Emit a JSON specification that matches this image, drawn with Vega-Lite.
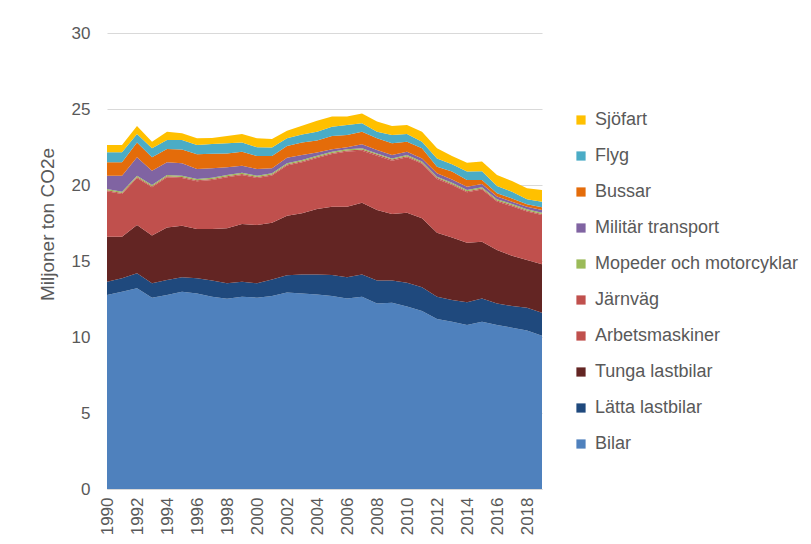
{
  "$schema": "https://vega.github.io/schema/vega-lite/v6.json",
  "width": 435,
  "height": 456,
  "autosize": "none",
  "padding": {"left": 107, "top": 33, "right": 269, "bottom": 55},
  "background": "white",
  "config": {
    "view": {"stroke": null},
    "font": "Liberation Sans"
  },
  "datasets": {
    "wide": [
      {"year": 1990, "Bilar": 12.76, "Lätta lastbilar": 0.88, "Tunga lastbilar": 2.96, "Arbetsmaskiner": 2.99, "Järnväg": 0.07, "Mopeder och motorcyklar": 0.08, "Militär transport": 0.87, "Bussar": 0.89, "Flyg": 0.65, "Sjöfart": 0.48},
      {"year": 1991, "Bilar": 12.98, "Lätta lastbilar": 0.88, "Tunga lastbilar": 2.74, "Arbetsmaskiner": 2.81, "Järnväg": 0.07, "Mopeder och motorcyklar": 0.08, "Militär transport": 1.05, "Bussar": 0.89, "Flyg": 0.65, "Sjöfart": 0.48},
      {"year": 1992, "Bilar": 13.2, "Lätta lastbilar": 0.99, "Tunga lastbilar": 3.18, "Arbetsmaskiner": 3.09, "Järnväg": 0.07, "Mopeder och motorcyklar": 0.08, "Militär transport": 1.21, "Bussar": 0.98, "Flyg": 0.56, "Sjöfart": 0.52},
      {"year": 1993, "Bilar": 12.59, "Lätta lastbilar": 0.94, "Tunga lastbilar": 3.14, "Arbetsmaskiner": 3.18, "Järnväg": 0.07, "Mopeder och motorcyklar": 0.08, "Militär transport": 0.94, "Bussar": 0.88, "Flyg": 0.59, "Sjöfart": 0.44},
      {"year": 1994, "Bilar": 12.76, "Lätta lastbilar": 0.99, "Tunga lastbilar": 3.46, "Arbetsmaskiner": 3.3, "Järnväg": 0.07, "Mopeder och motorcyklar": 0.08, "Militär transport": 0.84, "Bussar": 0.87, "Flyg": 0.59, "Sjöfart": 0.55},
      {"year": 1995, "Bilar": 12.98, "Lätta lastbilar": 0.95, "Tunga lastbilar": 3.39, "Arbetsmaskiner": 3.14, "Järnväg": 0.07, "Mopeder och motorcyklar": 0.08, "Militär transport": 0.82, "Bussar": 0.9, "Flyg": 0.63, "Sjöfart": 0.44},
      {"year": 1996, "Bilar": 12.87, "Lätta lastbilar": 0.99, "Tunga lastbilar": 3.24, "Arbetsmaskiner": 3.14, "Järnväg": 0.07, "Mopeder och motorcyklar": 0.08, "Militär transport": 0.66, "Bussar": 0.97, "Flyg": 0.61, "Sjöfart": 0.44},
      {"year": 1997, "Bilar": 12.65, "Lätta lastbilar": 1.06, "Tunga lastbilar": 3.39, "Arbetsmaskiner": 3.23, "Järnväg": 0.07, "Mopeder och motorcyklar": 0.08, "Militär transport": 0.62, "Bussar": 0.95, "Flyg": 0.65, "Sjöfart": 0.4},
      {"year": 1998, "Bilar": 12.52, "Lätta lastbilar": 1.01, "Tunga lastbilar": 3.62, "Arbetsmaskiner": 3.36, "Järnväg": 0.07, "Mopeder och motorcyklar": 0.08, "Militär transport": 0.5, "Bussar": 0.92, "Flyg": 0.66, "Sjöfart": 0.48},
      {"year": 1999, "Bilar": 12.65, "Lätta lastbilar": 0.99, "Tunga lastbilar": 3.79, "Arbetsmaskiner": 3.23, "Järnväg": 0.07, "Mopeder och motorcyklar": 0.08, "Militär transport": 0.46, "Bussar": 0.92, "Flyg": 0.61, "Sjöfart": 0.56},
      {"year": 2000, "Bilar": 12.59, "Lätta lastbilar": 0.94, "Tunga lastbilar": 3.84, "Arbetsmaskiner": 3.09, "Järnväg": 0.07, "Mopeder och motorcyklar": 0.08, "Militär transport": 0.44, "Bussar": 0.85, "Flyg": 0.58, "Sjöfart": 0.59},
      {"year": 2001, "Bilar": 12.7, "Lätta lastbilar": 1.09, "Tunga lastbilar": 3.73, "Arbetsmaskiner": 3.1, "Järnväg": 0.07, "Mopeder och motorcyklar": 0.08, "Militär transport": 0.33, "Bussar": 0.8, "Flyg": 0.56, "Sjöfart": 0.57},
      {"year": 2002, "Bilar": 12.92, "Lätta lastbilar": 1.14, "Tunga lastbilar": 3.92, "Arbetsmaskiner": 3.3, "Järnväg": 0.07, "Mopeder och motorcyklar": 0.08, "Militär transport": 0.37, "Bussar": 0.77, "Flyg": 0.5, "Sjöfart": 0.5},
      {"year": 2003, "Bilar": 12.87, "Lätta lastbilar": 1.25, "Tunga lastbilar": 4.02, "Arbetsmaskiner": 3.35, "Järnväg": 0.07, "Mopeder och motorcyklar": 0.08, "Militär transport": 0.33, "Bussar": 0.82, "Flyg": 0.54, "Sjöfart": 0.57},
      {"year": 2004, "Bilar": 12.8, "Lätta lastbilar": 1.32, "Tunga lastbilar": 4.3, "Arbetsmaskiner": 3.36, "Järnväg": 0.07, "Mopeder och motorcyklar": 0.08, "Militär transport": 0.21, "Bussar": 0.78, "Flyg": 0.58, "Sjöfart": 0.72},
      {"year": 2005, "Bilar": 12.7, "Lätta lastbilar": 1.38, "Tunga lastbilar": 4.49, "Arbetsmaskiner": 3.47, "Järnväg": 0.07, "Mopeder och motorcyklar": 0.08, "Militär transport": 0.16, "Bussar": 0.87, "Flyg": 0.62, "Sjöfart": 0.66},
      {"year": 2006, "Bilar": 12.54, "Lätta lastbilar": 1.39, "Tunga lastbilar": 4.64, "Arbetsmaskiner": 3.63, "Järnväg": 0.07, "Mopeder och motorcyklar": 0.08, "Militär transport": 0.13, "Bussar": 0.81, "Flyg": 0.66, "Sjöfart": 0.55},
      {"year": 2007, "Bilar": 12.65, "Lätta lastbilar": 1.47, "Tunga lastbilar": 4.72, "Arbetsmaskiner": 3.42, "Järnväg": 0.07, "Mopeder och motorcyklar": 0.08, "Militär transport": 0.27, "Bussar": 0.83, "Flyg": 0.55, "Sjöfart": 0.65},
      {"year": 2008, "Bilar": 12.21, "Lätta lastbilar": 1.5, "Tunga lastbilar": 4.65, "Arbetsmaskiner": 3.57, "Järnväg": 0.07, "Mopeder och motorcyklar": 0.08, "Militär transport": 0.22, "Bussar": 0.77, "Flyg": 0.44, "Sjöfart": 0.66},
      {"year": 2009, "Bilar": 12.26, "Lätta lastbilar": 1.45, "Tunga lastbilar": 4.38, "Arbetsmaskiner": 3.51, "Järnväg": 0.07, "Mopeder och motorcyklar": 0.08, "Militär transport": 0.22, "Bussar": 0.77, "Flyg": 0.55, "Sjöfart": 0.59},
      {"year": 2010, "Bilar": 12.0, "Lätta lastbilar": 1.57, "Tunga lastbilar": 4.61, "Arbetsmaskiner": 3.64, "Järnväg": 0.07, "Mopeder och motorcyklar": 0.08, "Militär transport": 0.22, "Bussar": 0.66, "Flyg": 0.51, "Sjöfart": 0.59},
      {"year": 2011, "Bilar": 11.71, "Lätta lastbilar": 1.56, "Tunga lastbilar": 4.54, "Arbetsmaskiner": 3.58, "Järnväg": 0.07, "Mopeder och motorcyklar": 0.08, "Militär transport": 0.21, "Bussar": 0.66, "Flyg": 0.44, "Sjöfart": 0.66},
      {"year": 2012, "Bilar": 11.18, "Lätta lastbilar": 1.47, "Tunga lastbilar": 4.21, "Arbetsmaskiner": 3.54, "Järnväg": 0.07, "Mopeder och motorcyklar": 0.08, "Militär transport": 0.22, "Bussar": 0.43, "Flyg": 0.55, "Sjöfart": 0.66},
      {"year": 2013, "Bilar": 11.0, "Lätta lastbilar": 1.43, "Tunga lastbilar": 4.11, "Arbetsmaskiner": 3.46, "Järnväg": 0.07, "Mopeder och motorcyklar": 0.08, "Militär transport": 0.22, "Bussar": 0.51, "Flyg": 0.48, "Sjöfart": 0.54},
      {"year": 2014, "Bilar": 10.79, "Lätta lastbilar": 1.49, "Tunga lastbilar": 3.92, "Arbetsmaskiner": 3.32, "Järnväg": 0.07, "Mopeder och motorcyklar": 0.08, "Militär transport": 0.22, "Bussar": 0.44, "Flyg": 0.55, "Sjöfart": 0.59},
      {"year": 2015, "Bilar": 11.0, "Lätta lastbilar": 1.54, "Tunga lastbilar": 3.73, "Arbetsmaskiner": 3.43, "Järnväg": 0.07, "Mopeder och motorcyklar": 0.08, "Militär transport": 0.22, "Bussar": 0.26, "Flyg": 0.57, "Sjöfart": 0.64},
      {"year": 2016, "Bilar": 10.79, "Lätta lastbilar": 1.42, "Tunga lastbilar": 3.51, "Arbetsmaskiner": 3.19, "Järnväg": 0.07, "Mopeder och motorcyklar": 0.08, "Militär transport": 0.18, "Bussar": 0.21, "Flyg": 0.48, "Sjöfart": 0.73},
      {"year": 2017, "Bilar": 10.61, "Lätta lastbilar": 1.43, "Tunga lastbilar": 3.31, "Arbetsmaskiner": 3.25, "Järnväg": 0.07, "Mopeder och motorcyklar": 0.08, "Militär transport": 0.15, "Bussar": 0.22, "Flyg": 0.44, "Sjöfart": 0.7},
      {"year": 2018, "Bilar": 10.42, "Lätta lastbilar": 1.51, "Tunga lastbilar": 3.14, "Arbetsmaskiner": 3.18, "Järnväg": 0.07, "Mopeder och motorcyklar": 0.08, "Militär transport": 0.17, "Bussar": 0.16, "Flyg": 0.33, "Sjöfart": 0.72},
      {"year": 2019, "Bilar": 10.09, "Lätta lastbilar": 1.51, "Tunga lastbilar": 3.18, "Arbetsmaskiner": 3.25, "Järnväg": 0.07, "Mopeder och motorcyklar": 0.08, "Militär transport": 0.18, "Bussar": 0.17, "Flyg": 0.37, "Sjöfart": 0.77}
    ]
  },
  "data": {"name": "wide"},
  "transform": [
    {"fold": ["Bilar", "Lätta lastbilar", "Tunga lastbilar", "Arbetsmaskiner", "Järnväg", "Mopeder och motorcyklar", "Militär transport", "Bussar", "Flyg", "Sjöfart"], "as": ["category", "value"]},
    {"calculate": "indexof(['Bilar','Lätta lastbilar','Tunga lastbilar','Arbetsmaskiner','Järnväg','Mopeder och motorcyklar','Militär transport','Bussar','Flyg','Sjöfart'], datum.category)", "as": "stackOrder"}
  ],
  "mark": {"type": "area", "interpolate": "linear"},
  "encoding": {
    "x": {
      "field": "year",
      "type": "quantitative",
      "scale": {"domain": [1990, 2019], "nice": false, "zero": false},
      "axis": {
        "values": [1990, 1992, 1994, 1996, 1998, 2000, 2002, 2004, 2006, 2008, 2010, 2012, 2014, 2016, 2018],
        "format": "d",
        "labelAngle": 270,
        "labelAlign": "right",
        "labelBaseline": "middle",
        "labelFontSize": 17,
        "labelColor": "#595959",
        "labelPadding": 8,
        "ticks": false,
        "domainColor": "#D9D9D9",
        "grid": false,
        "title": null,
        "labelFlush": false,
        "labelOverlap": false
      }
    },
    "y": {
      "field": "value",
      "type": "quantitative",
      "stack": "zero",
      "scale": {"domain": [0, 30], "nice": false},
      "axis": {
        "values": [0, 5, 10, 15, 20, 25, 30],
        "labelFontSize": 17,
        "labelColor": "#595959",
        "labelPadding": 17,
        "ticks": false,
        "domain": false,
        "grid": true,
        "gridColor": "#D9D9D9",
        "title": "Miljoner ton CO2e",
        "titleFontSize": 19,
        "titleFontWeight": "normal",
        "titleColor": "#595959",
        "titlePadding": 14,
        "titleY": 191
      }
    },
    "color": {
      "field": "category",
      "type": "nominal",
      "scale": {
        "domain": ["Sjöfart", "Flyg", "Bussar", "Militär transport", "Mopeder och motorcyklar", "Järnväg", "Arbetsmaskiner", "Tunga lastbilar", "Lätta lastbilar", "Bilar"],
        "range": ["#FFC000", "#4BACC6", "#E46C0A", "#8064A2", "#9BBB59", "#C0504D", "#C0504D", "#632523", "#1F497D", "#4F81BD"]
      },
      "legend": {
        "orient": "none",
        "legendX": 465,
        "legendY": 78,
        "title": null,
        "symbolType": "square",
        "symbolSize": 85,
        "symbolStrokeWidth": 0,
        "labelFontSize": 18,
        "labelColor": "#595959",
        "rowPadding": 18,
        "labelOffset": 5,
        "labelLimit": 300
      }
    },
    "order": {"field": "stackOrder", "type": "quantitative", "sort": "ascending"}
  }
}
